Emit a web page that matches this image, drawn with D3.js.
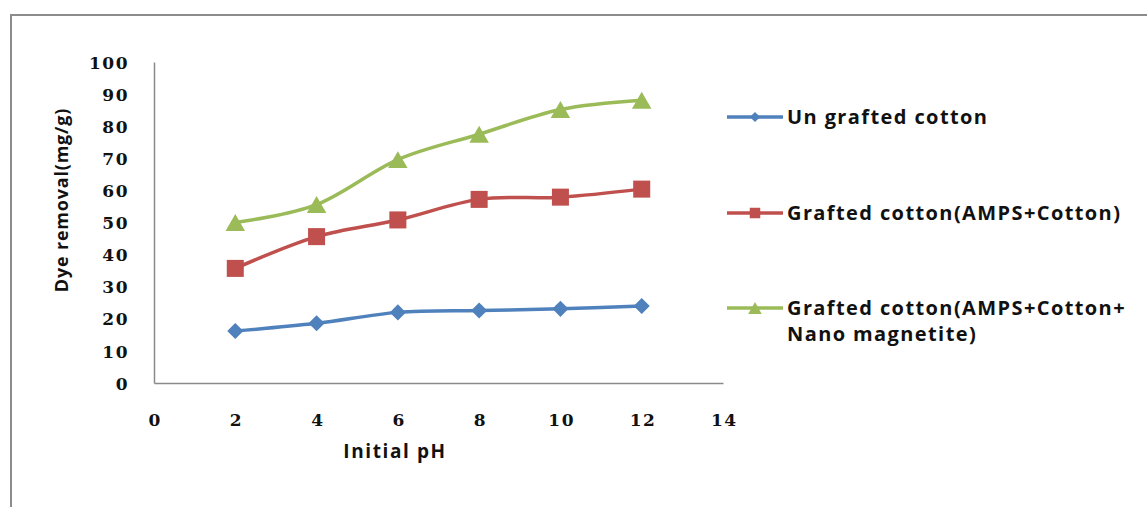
<!DOCTYPE html>
<html>
<head>
<meta charset="utf-8">
<script src="https://cdn.jsdelivr.net/npm/d3@7/dist/d3.min.js"></script>
<style>
  html, body { margin: 0; padding: 0; background: #fff; }
  svg { display: block; }
</style>
</head>
<body>
<svg id="chart" width="1147" height="507"></svg>
<script>
// ---- data ----
const pH = [2, 4, 6, 8, 10, 12];
const unGrafted = [16.2, 18.6, 22.0, 22.6, 23.1, 24.0];
const graftedAMPS = [35.7, 45.6, 50.8, 57.2, 57.9, 60.4];
const graftedNano = [50.0, 55.6, 69.6, 77.5, 85.2, 88.1];
const seriesNames = ["Un grafted cotton", "Grafted cotton(AMPS+Cotton)", "Grafted cotton(AMPS+Cotton+\nNano magnetite)"];
const xTicks = [0, 2, 4, 6, 8, 10, 12, 14];
const yTicks = [0, 10, 20, 30, 40, 50, 60, 70, 80, 90, 100];
const xTitle = "Initial pH";
const yTitle = "Dye removal(mg/g)";

// ---- layout ----
const svg = d3.select("#chart");
const colors = ["#4F81BD", "#C0504D", "#9BBB59"];
const shapes = [d3.symbolSquare, d3.symbolSquare, d3.symbolTriangle];
const rotations = [45, 0, 0];
const markerSizes = [130, 290, 165];
const legendMarkerSizes = [52, 110, 80];
// triangles are centred on their centroid in d3; shift so the bounding box is centred
const markerOffset = (si, size) => shapes[si] === d3.symbolTriangle ? Math.sqrt(size * 4 / Math.sqrt(3)) * Math.sqrt(3) / 2 / 6 : 0;

// outer frame (extends beyond the window on right and bottom)
svg.append("rect")
  .attr("x", 11).attr("y", 15).attr("width", 1160).attr("height", 520)
  .attr("fill", "none").attr("stroke", "#8c8c8c").attr("stroke-width", 2);

const x = d3.scaleLinear().domain([0, 14]).range([154, 723]);
const y = d3.scaleLinear().domain([0, 100]).range([383, 62]);

const tickFont = "'DejaVu Serif', serif";
const sansFont = "'Open Sans', 'DejaVu Sans', sans-serif";

// axes
const xAxis = d3.axisBottom(x).tickValues(xTicks).tickSize(0).tickPadding(0).tickFormat(d3.format("d"));
const yAxis = d3.axisLeft(y).tickValues(yTicks).tickSize(0).tickPadding(0).tickFormat(d3.format("d"));

const gx = svg.append("g").attr("transform", `translate(0,${y(0)})`).call(xAxis);
gx.select(".domain").attr("stroke", "#8a8a8a").attr("stroke-width", 1.5);
gx.selectAll("text")
  .attr("dy", null).attr("y", 43).attr("dx", "0.75")
  .attr("font-family", tickFont).attr("font-weight", "bold").attr("font-size", 17)
  .attr("letter-spacing", 1.5)
  .attr("fill", "#111");

const gy = svg.append("g").attr("transform", `translate(${x(0)},0)`).call(yAxis);
gy.select(".domain").attr("stroke", "#8a8a8a").attr("stroke-width", 1.5);
gy.selectAll("text")
  .attr("dy", "0.36em").attr("x", -25)
  .attr("font-family", tickFont).attr("font-weight", "bold").attr("font-size", 17)
  .attr("letter-spacing", 1.5)
  .attr("fill", "#111");

// axis titles
svg.append("text")
  .attr("x", 395).attr("y", 458)
  .attr("text-anchor", "middle")
  .attr("font-family", sansFont).attr("font-weight", "bold").attr("font-size", 19)
  .attr("letter-spacing", 1.6)
  .attr("fill", "#111")
  .text(xTitle);

svg.append("text")
  .attr("transform", `translate(68,200) rotate(-90)`)
  .attr("text-anchor", "middle")
  .attr("font-family", sansFont).attr("font-weight", "bold").attr("font-size", 18)
  .attr("letter-spacing", 0.8)
  .attr("fill", "#111")
  .text(yTitle);

// series
const allSeries = [unGrafted, graftedAMPS, graftedNano];
const line = d3.line()
  .x((d, i) => x(pH[i]))
  .y(d => y(d))
  .curve(d3.curveCatmullRom.alpha(0));

allSeries.forEach((vals, si) => {
  svg.append("path")
    .datum(vals)
    .attr("d", line)
    .attr("fill", "none")
    .attr("stroke", colors[si])
    .attr("stroke-width", 3.5)
    .attr("stroke-linejoin", "round");

  const off = markerOffset(si, markerSizes[si]);
  svg.append("g").selectAll("path")
    .data(vals)
    .join("path")
    .attr("transform", (d, i) => `translate(${x(pH[i])},${y(d) + off}) rotate(${rotations[si]})`)
    .attr("d", d3.symbol().type(shapes[si]).size(markerSizes[si]))
    .attr("fill", colors[si]);
});

// legend
const legendRows = [117, 213, 308];
seriesNames.forEach((name, si) => {
  const g = svg.append("g").attr("transform", `translate(727,${legendRows[si]})`);
  g.append("line").attr("x1", 0).attr("x2", 56).attr("y1", 0).attr("y2", 0)
    .attr("stroke", colors[si]).attr("stroke-width", 3.5);
  const off = markerOffset(si, legendMarkerSizes[si]);
  g.append("path").attr("transform", `translate(28,${off}) rotate(${rotations[si]})`)
    .attr("d", d3.symbol().type(shapes[si]).size(legendMarkerSizes[si]))
    .attr("fill", colors[si]);
  const t = g.append("text")
    .attr("x", 60).attr("y", 0)
    .attr("font-family", sansFont).attr("font-weight", "bold").attr("font-size", 20)
    .attr("letter-spacing", 1.4)
    .attr("fill", "#111");
  name.split("\n").forEach((ln, li) => {
    t.append("tspan").attr("x", 60).attr("dy", li === 0 ? "0.35em" : 26).text(ln);
  });
});
</script>
</body>
</html>
